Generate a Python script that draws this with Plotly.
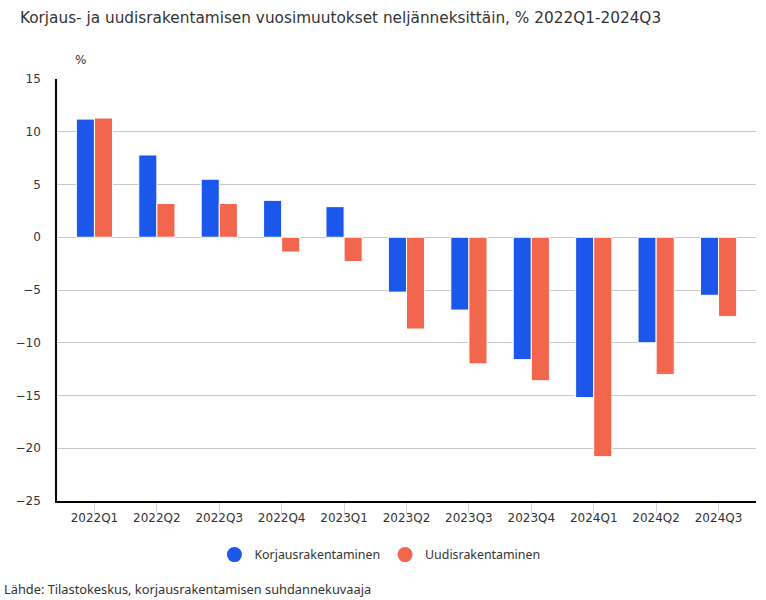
import plotly.graph_objects as go

categories = ["2022Q1", "2022Q2", "2022Q3", "2022Q4", "2023Q1", "2023Q2",
              "2023Q3", "2023Q4", "2024Q1", "2024Q2", "2024Q3"]
korjaus = [11.2, 7.8, 5.5, 3.5, 2.9, -5.2, -6.9, -11.6, -15.2, -10.0, -5.5]
uudis = [11.3, 3.2, 3.2, -1.4, -2.3, -8.7, -12.0, -13.6, -20.8, -13.0, -7.5]
series_names = ["Korjausrakentaminen", "Uudisrakentaminen"]
colors = ["#1B57EB", "#F2664E"]
title = "Korjaus- ja uudisrakentamisen vuosimuutokset neljänneksittäin, % 2022Q1-2024Q3"
source = "Lähde: Tilastokeskus, korjausrakentamisen suhdannekuvaaja"
y_ticks = [15, 10, 5, 0, -5, -10, -15, -20, -25]

fig = go.Figure()
for name, vals, col in zip(series_names, [korjaus, uudis], colors):
    fig.add_trace(go.Bar(
        x=categories, y=vals, name=name, showlegend=False,
        marker=dict(color=col, line=dict(color="white", width=1)),
    ))
for name, col in zip(series_names, colors):
    fig.add_trace(go.Scatter(
        x=[None], y=[None], mode="markers", name=name,
        marker=dict(color=col, size=15, symbol="circle"),
    ))

fig.update_layout(
    width=766, height=600,
    paper_bgcolor="white", plot_bgcolor="white",
    margin=dict(l=57, r=10, t=79, b=99),
    barmode="group", bargap=0.42, bargroupgap=0,
    font=dict(family="DejaVu Sans", size=12, color="#333333"),
    title=dict(text=title, x=0.026, xanchor="left", y=0.97, yanchor="middle",
               font=dict(family="DejaVu Sans", size=15.3, color="#333333")),
    legend=dict(orientation="h", x=0.462, xanchor="center", y=-0.128, yanchor="middle",
                font=dict(family="Noto Sans", size=12.4, color="#333333"),
                itemwidth=30, tracegroupgap=0),
    xaxis=dict(range=[-0.6, 10.6], showline=True, linecolor="black", linewidth=1.5,
               ticks="outside", ticklen=10, tickcolor="#ccd6eb", showgrid=False,
               ticklabelstandoff=-5,
               tickfont=dict(family="DejaVu Sans", size=12, color="#333333")),
    yaxis=dict(range=[-25, 15], tickvals=y_ticks, showline=True, linecolor="black",
               linewidth=1.5, gridcolor="#c8c8c8", gridwidth=1, zeroline=False,
               ticks="", ticklabelstandoff=12, tickformat="d",
               tickfont=dict(family="DejaVu Sans", size=12, color="#333333")),
    annotations=[
        dict(text="%", xref="paper", yref="paper", x=0.033, y=1.045, showarrow=False,
             xanchor="center", yanchor="middle",
             font=dict(family="DejaVu Sans", size=12, color="#333333")),
        dict(text=source, xref="paper", yref="paper", x=-0.078, y=-0.209,
             showarrow=False, xanchor="left", yanchor="middle",
             font=dict(family="Noto Sans", size=12.8, color="#333333")),
    ],
)
fig.write_html("out.html", config={"displayModeBar": False},
               post_script="document.body.style.margin='0';")
